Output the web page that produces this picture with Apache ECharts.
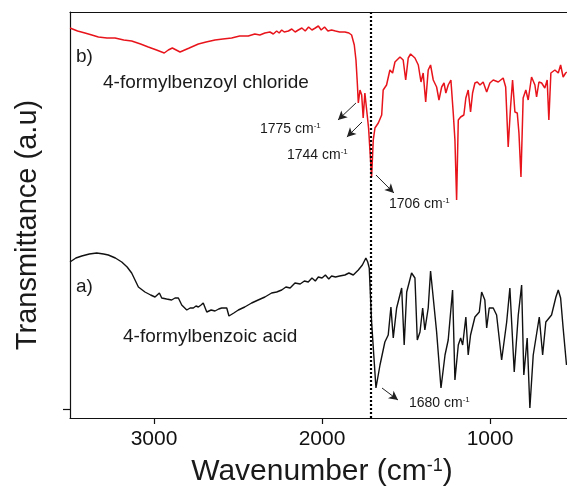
<!DOCTYPE html>
<html>
<head>
<meta charset="utf-8">
<script src="https://cdn.jsdelivr.net/npm/echarts@6/dist/echarts.min.js"></script>
<style>html,body{margin:0;padding:0;background:#fff}#c{width:567px;height:487px}</style>
</head>
<body>
<div id="c"></div>
<script>
// 4-formylbenzoyl chloride (b) : [wavenumber, transmittance a.u.]
var chlorideSpectrum = [[3500,390],[3455,387],[3411,385],[3370,383],[3331,381],[3280,380],[3232,380],[3180,378],[3133,377],[3080,374],[3034,371],[2985,368],[2939,365],[2915,368],[2891,370],[2868,368],[2845,366],[2790,370],[2736,374],[2690,376],[2637,378],[2590,379],[2538,380],[2490,382],[2439,382],[2400,384],[2370,383],[2340,385],[2310,386],[2290,384],[2270,387],[2255,385],[2240,388],[2225,386],[2200,387],[2180,389],[2160,386],[2141,388],[2120,390],[2100,387],[2080,391],[2060,388],[2040,390],[2022,392],[2005,388],[1985,391],[1965,387],[1943,388],[1920,387],[1895,386],[1864,386],[1840,385],[1824,383],[1808,373],[1798,358],[1790,335],[1784,315],[1774,328],[1764,323],[1755,300],[1745,325],[1738,323],[1723,290],[1705,241],[1695,278],[1685,290],[1665,295],[1645,303],[1636,328],[1616,333],[1596,348],[1580,345],[1566,356],[1536,361],[1517,358],[1502,338],[1487,360],[1473,364],[1447,360],[1427,353],[1411,336],[1398,345],[1383,316],[1368,348],[1354,353],[1338,338],[1318,331],[1304,318],[1288,331],[1274,335],[1263,325],[1249,333],[1233,338],[1219,305],[1209,278],[1199,218],[1189,298],[1175,301],[1156,303],[1144,320],[1130,328],[1116,306],[1104,325],[1090,335],[1076,336],[1060,333],[1041,336],[1020,326],[1001,335],[981,338],[951,336],[922,340],[907,331],[892,271],[878,311],[866,338],[852,306],[838,305],[828,285],[816,241],[803,320],[787,328],[773,318],[753,341],[733,333],[723,321],[709,336],[693,335],[674,330],[660,338],[650,298],[638,345],[614,348],[594,345],[580,353],[565,341],[550,345],[543,346]];

// 4-formylbenzoic acid (a)
var acidSpectrum = [[3500,156],[3465,160],[3430,162],[3385,164],[3341,165],[3300,164],[3272,163],[3230,160],[3192,156],[3160,151],[3133,145],[3093,131],[3054,126],[3020,123],[2994,121],[2968,125],[2954,120],[2925,119],[2895,118],[2875,120],[2855,120],[2835,113],[2805,108],[2785,110],[2766,110],[2750,112],[2736,111],[2720,113],[2707,115],[2686,106],[2660,108],[2637,107],[2615,109],[2597,110],[2567,110],[2554,102],[2525,105],[2498,108],[2460,111],[2419,115],[2380,118],[2340,121],[2300,125],[2270,126],[2240,128],[2215,131],[2190,130],[2161,135],[2130,134],[2105,137],[2082,136],[2060,140],[2040,137],[2022,141],[2000,140],[1980,143],[1960,139],[1943,142],[1920,141],[1895,142],[1864,143],[1840,145],[1814,143],[1784,148],[1760,153],[1739,160],[1728,156],[1719,150],[1705,96],[1679,30],[1655,53],[1626,76],[1606,83],[1590,111],[1576,80],[1556,110],[1526,130],[1511,73],[1496,126],[1467,145],[1447,140],[1433,78],[1417,86],[1401,110],[1388,88],[1368,110],[1354,147],[1338,120],[1318,86],[1292,30],[1268,63],[1249,78],[1223,128],[1209,38],[1189,73],[1175,80],[1163,73],[1144,101],[1130,63],[1116,83],[1090,101],[1064,106],[1050,126],[1031,118],[1020,90],[1005,110],[981,110],[961,103],[931,58],[901,96],[882,130],[856,46],[832,103],[812,133],[799,43],[779,80],[763,10],[743,63],[707,101],[687,63],[668,96],[634,103],[608,121],[594,128],[580,120],[565,90],[545,53]];

var xTicks = [3000, 2000, 1000];
var xRange = [542, 3500];
var yRange = [0, 406];
var yTicks = [9];
var dividerWavenumber = 1709;
// arrows: [fromWavenumber, fromT, toWavenumber, toT]
var arrowsB = [[1798,315,1905,298],[1762,296,1852,281],[1679,243,1572,225]];
var arrowsA = [[1643,30,1548,18]];

var FONT = '"Liberation Sans", Arial, sans-serif';
var chart = echarts.init(document.getElementById('c'), null, {renderer:'canvas'});

function arrowLines(list){
  return list.map(function(a){
    return [{coord:[a[0],a[1]], symbol:'none'},{coord:[a[2],a[3]], symbol:'arrow'}];
  });
}
function txt(x, y, text, size, extra){
  var o = {type:'text', x:x, y:y, silent:true, style:{
    text:text, fontSize:size, fontFamily:FONT, fill:'#1a1a1a',
    textAlign:'left', verticalAlign:'middle', textVerticalAlign:'middle',
    rich:{s:{fontSize:Math.round(size*0.6), fontFamily:FONT, fill:'#1a1a1a', verticalAlign:'top'}}
  }};
  if (extra) for (var k in extra) o.style[k] = extra[k];
  return o;
}

chart.setOption({
  animation:false,
  backgroundColor:'#fff',
  grid:{left:70, right:0, top:12, bottom:69},
  xAxis:[{
    type:'value', inverse:true, min:xRange[0], max:xRange[1], position:'bottom',
    axisLine:{show:true, onZero:false, lineStyle:{color:'#111', width:1.2}},
    axisTick:{show:true, customValues:xTicks, length:6, lineStyle:{color:'#111', width:1.2}},
    axisLabel:{customValues:xTicks, fontSize:21, fontFamily:FONT, color:'#111', margin:11,
      formatter:function(v){return String(v);}},
    splitLine:{show:false}
  },{
    type:'value', inverse:true, min:xRange[0], max:xRange[1], position:'top',
    axisLine:{show:true, onZero:false, lineStyle:{color:'#111', width:1.2}},
    axisTick:{show:false}, axisLabel:{show:false}, splitLine:{show:false}
  }],
  yAxis:{
    type:'value', min:yRange[0], max:yRange[1],
    axisLine:{show:true, onZero:false, lineStyle:{color:'#111', width:1.2}},
    axisTick:{show:true, customValues:yTicks, length:7, lineStyle:{color:'#111', width:1.2}},
    axisLabel:{show:false}, splitLine:{show:false}
  },
  series:[{
    name:'4-formylbenzoyl chloride', type:'line', data:chlorideSpectrum, showSymbol:false,
    lineStyle:{color:'#e8141b', width:1.5}, itemStyle:{color:'#e8141b'},
    markLine:{silent:true, symbolSize:[7,9], label:{show:false},
      lineStyle:{color:'#222', width:1, type:'solid'}, itemStyle:{color:'#222'},
      data:arrowLines(arrowsB).concat([[{coord:[dividerWavenumber,yRange[0]],symbol:'none'},{coord:[dividerWavenumber,yRange[1]],symbol:'none', lineStyle:{type:[2,2], width:2.2, color:'#000'}}]])
    }
  },{
    name:'4-formylbenzoic acid', type:'line', data:acidSpectrum, showSymbol:false,
    lineStyle:{color:'#111', width:1.4}, itemStyle:{color:'#111'},
    markLine:{silent:true, symbolSize:[7,9], label:{show:false},
      lineStyle:{color:'#222', width:1, type:'solid'}, itemStyle:{color:'#222'},
      data:arrowLines(arrowsA)}
  }],
  graphic:[
    txt(76, 57, 'b)', 19),
    txt(103, 83, '4-formylbenzoyl chloride', 19),
    txt(76, 287, 'a)', 19),
    txt(123, 337, '4-formylbenzoic acid', 19),
    txt(260, 129, '1775 cm{s|-1}', 14),
    txt(287, 155, '1744 cm{s|-1}', 14),
    txt(389, 204, '1706 cm{s|-1}', 14),
    txt(409, 403, '1680 cm{s|-1}', 14),
    txt(322, 472, 'Wavenumber (cm{s|-1})', 30, {textAlign:'center'}),
    {type:'text', x:28, y:225, rotation:Math.PI/2, silent:true, style:{text:'Transmittance (a.u)', fontSize:29, fontFamily:FONT, fill:'#1a1a1a', textAlign:'center', verticalAlign:'middle', textVerticalAlign:'middle'}}
  ]
});
</script>
</body>
</html>
